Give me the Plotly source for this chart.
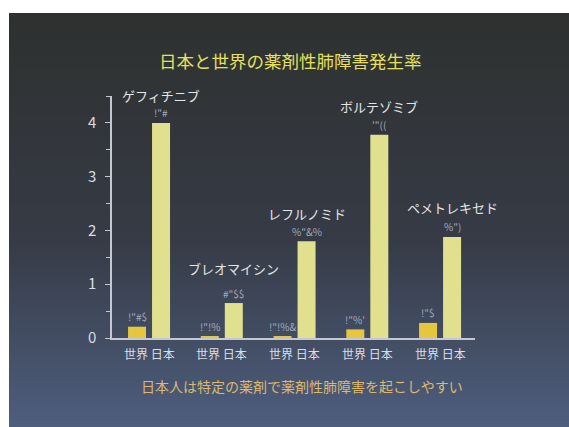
import plotly.graph_objects as go

# Drug-induced lung injury incidence: world vs Japan
drugs = ["ゲフィチニブ", "ブレオマイシン", "レフルノミド", "ボルテゾミブ", "ペメトレキセド"]
world_rate = [0.21, 0.02, 0.02, 0.16, 0.28]
japan_rate = [4.0, 0.65, 1.8, 3.78, 1.88]
world_text = ['!"#$', '!"!%', '!"!%&', '!"%\'', '!"$']
japan_text = ['!"#', '#"$$', '%"&%', '\'"((', '%")']
pair_label = "世界 日本"
y_ticks = [0, 1, 2, 3, 4]

FONT = "Noto Sans CJK JP"
W, H = 569, 427
L, R, T, B = 112, 94, 96, 89
PW, PH = W - L - R, H - T - B


def px_x(px):
    return (px - L) / PW


def px_y(py):
    return (H - B - py) / PH


fig = go.Figure()
fig.add_trace(go.Bar(x=drugs, y=world_rate, marker_color="#e6c63e",
                     marker_line_width=0, name="世界"))
fig.add_trace(go.Bar(x=drugs, y=japan_rate, marker_color="#e0e08e",
                     marker_line_width=0, name="日本"))

# slide background: vertical gradient from charcoal to slate blue
top_c = (46, 49, 47)
mid_c = (54, 59, 70)
bot_c = (78, 94, 126)
shapes = []
n = 140
y0, y1 = 13, H
for i in range(n):
    a = y0 + (y1 - y0) * i / n
    b = y0 + (y1 - y0) * (i + 1) / n
    t = (i + 0.5) / n
    if t < 0.55:
        u = t / 0.55
        c = [round(top_c[k] + (mid_c[k] - top_c[k]) * u) for k in range(3)]
    else:
        u = (t - 0.55) / 0.45
        c = [round(mid_c[k] + (bot_c[k] - mid_c[k]) * u) for k in range(3)]
    shapes.append(dict(type="rect", xref="paper", yref="paper", layer="below",
                       x0=px_x(9), x1=px_x(W + 2), y0=px_y(b + 1), y1=px_y(a),
                       fillcolor="rgb(%d,%d,%d)" % tuple(c), line_width=0))

ann = []
# title and conclusion
ann.append(dict(text="日本と世界の薬剤性肺障害発生率", xref="paper", yref="paper",
                x=px_x(290), y=px_y(60), showarrow=False,
                xanchor="center", yanchor="middle",
                font=dict(family=FONT, size=17.5, color="#e6e05a")))
ann.append(dict(text="日本人は特定の薬剤で薬剤性肺障害を起こしやすい", xref="paper", yref="paper",
                x=px_x(302), y=px_y(386), showarrow=False,
                xanchor="center", yanchor="middle",
                font=dict(family=FONT, size=14, color="#dcb870")))

name_shift = [27, 35, 28, 28, 29]
for i, d in enumerate(drugs):
    # drug name above the Japan bar
    ann.append(dict(text=d, x=d, y=japan_rate[i], xshift=12, yshift=name_shift[i],
                    showarrow=False, yanchor="middle",
                    font=dict(family=FONT, size=13, color="#e6e6e6")))
    # value captions
    ann.append(dict(text=world_text[i], x=d, y=world_rate[i], xshift=-12, yshift=10,
                    showarrow=False, yanchor="middle",
                    font=dict(family=FONT, size=10, color="#a4acbc")))
    ann.append(dict(text=japan_text[i], x=d, y=japan_rate[i], xshift=12, yshift=10,
                    showarrow=False, yanchor="middle",
                    font=dict(family=FONT, size=10, color="#a4acbc")))
    # 世界 / 日本 labels under each pair
    ann.append(dict(text=pair_label, x=d, y=0, yshift=-15,
                    showarrow=False, yanchor="middle",
                    font=dict(family=FONT, size=12, color="#dadee6")))

fig.update_layout(
    width=W, height=H,
    margin=dict(l=L, r=R, t=T, b=B, pad=0),
    paper_bgcolor="white",
    plot_bgcolor="rgba(0,0,0,0)",
    barmode="group", bargap=0.34, bargroupgap=0.25,
    showlegend=False,
    shapes=shapes,
    annotations=ann,
    font=dict(family=FONT),
)
fig.update_xaxes(range=[-0.509, 4.48], showticklabels=False, ticks="",
                 showgrid=False, zeroline=False, showline=True,
                 linecolor="#c4c8d0", linewidth=1.5)
fig.update_yaxes(range=[0, 4.5], tickvals=y_ticks, ticks="outside", ticklen=5,
                 tickcolor="#c4c8d0", tickwidth=1.2,
                 minor=dict(dtick=0.5, ticks="outside", ticklen=4,
                            tickcolor="#c4c8d0", tickwidth=1.2),
                 showgrid=False, zeroline=False, showline=True,
                 linecolor="#c4c8d0", linewidth=1.5,
                 tickfont=dict(family=FONT, size=15, color="#dadde2"),
                 ticklabelstandoff=6)

fig.write_html("out.html")
